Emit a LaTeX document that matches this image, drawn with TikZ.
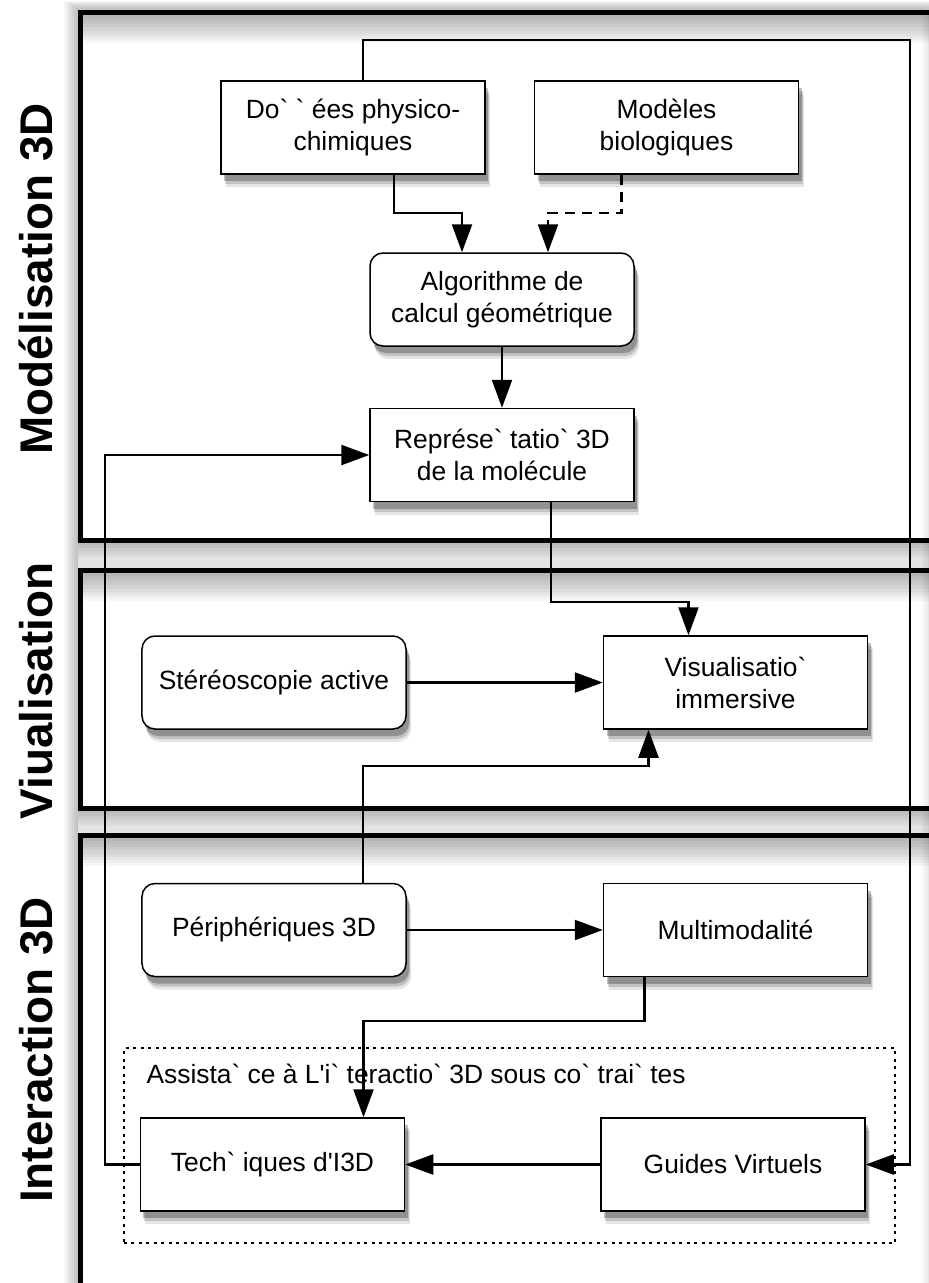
\documentclass[tikz,border=0pt]{standalone}
\usepackage{fontspec}
\setmainfont{Liberation Sans}[Ligatures=TeXOff]
\usetikzlibrary{positioning,arrows.meta,shadows}

\begin{document}
\begin{tikzpicture}[
  x=1bp, y=-1bp,
  box/.style={draw, line width=1.5bp, fill=white, align=center, minimum width=264bp, minimum height=93bp, inner sep=0pt,
    font=\fontsize{26.5}{32}\selectfont,
    drop shadow={shadow xshift=5bp, shadow yshift=-13bp, fill=black, opacity=0.10},
    drop shadow={shadow xshift=4bp, shadow yshift=-10bp, fill=black, opacity=0.15},
    drop shadow={shadow xshift=3bp, shadow yshift=-7bp, fill=black, opacity=0.25}},
  roundbox/.style={box, rounded corners=13bp},
  lane/.style={draw, line width=5bp, fill=white},
  haze/.style={fill=black, opacity=0.035},
  lanelabel/.style={rotate=90, font=\fontsize{46}{46}\selectfont\bfseries},
  groupbox/.style={draw, line width=2bp, dash pattern=on 3bp off 4.5bp, minimum width=771bp, minimum height=195bp},
  arrow/.style={-{Triangle[length=28bp, width=20bp]}, line width=2.3bp},
  dasharrow/.style={arrow, dash pattern=on 10bp off 7bp}
]
\useasboundingbox (0,0) rectangle (929,1283);
\fill[white] (0,0) rectangle (929,1283);

% swimlanes
\foreach \k in {1,...,7} {
  \fill[haze] (78-2*\k,9-1.2*\k) rectangle (942,1283);
}
\fill[white] (78,10) rectangle (942,1283);
\fill[gray!22] (78,542) rectangle (942,568);
\fill[gray!22] (78,810) rectangle (942,833);
\foreach \k in {1,...,5} {
  \fill[haze] (78,542) rectangle (942,542+3*\k);
  \fill[haze] (78,810) rectangle (942,810+3*\k);
}
\draw[lane] (80,12) rectangle (942,540);
\draw[lane] (80,570) rectangle (942,808);
\draw[lane] (80,835) rectangle (942,1300);
\foreach \top in {14.5,572.5,837.5} {
  \foreach \k in {1,...,9} {
    \fill[haze] (82.5,\top) rectangle (939.5,\top+3.2*\k);
  }
}
\foreach \k in {1,...,6} {
  \fill[haze] (939.5-3*\k,14.5) rectangle (939.5,1283);
}
\node[lanelabel] (labmodel) at (36,279) {Modélisation 3D};
\node[lanelabel] (labvisu) at (36,691) {Viualisation};
\node[lanelabel] (labinter) at (36,1050) {Interaction 3D};

% modelisation
\node[box] (donnees) at (353,127.5) {Do` ` ées physico-\\chimiques};
\node[box, right=48bp of donnees] (modeles) {Modèles\\biologiques};
\node[roundbox] (algo) at (502,299.5) {Algorithme de\\calcul géométrique};
\node[box, below=61bp of algo] (repr) {Représe` tatio`  3D\\de la molécule};

% visualisation
\node[roundbox] (stereo) at (274,682.5) {Stéréoscopie active};
\node[box, right=196bp of stereo] (visu) {Visualisatio`\\immersive};

% interaction
\node[roundbox, below=153bp of stereo] (periph) {Périphériques 3D};
\node[box, right=196bp of periph] (multi) {Multimodalité};
\node[groupbox] (assist) at (509.5,1145.5) {};
\node[anchor=base west, font=\fontsize{26.5}{32}\selectfont] (assistlabel) at (143,1083) {Assista` ce à L'i` teractio` 3D sous co` trai` tes};
\node[box] (tech) at (272.5,1164.5) {Tech` iques d'I3D};
\node[box, right=195bp of tech] (guides) {Guides Virtuels};

% connectors
\coordinate (topturn) at (910,40);
\draw[arrow] ([xshift=10bp]donnees.north) |- (topturn) |- (guides.east);
\draw[arrow] ([xshift=41bp]donnees.south) -- ++(0,38) -| ([xshift=-40bp]algo.north);
\draw[dasharrow] ([xshift=-45bp]modeles.south) -- ++(0,38) -| ([xshift=46bp]algo.north);
\draw[arrow] (algo) -- (repr);
\draw[arrow] (tech.west) -- ++(-35,0) |- (repr.west);
\draw[arrow] ([xshift=49bp]repr.south) -- ++(0,100) -| ([xshift=-47bp]visu.north);
\draw[arrow] (stereo) -- (visu);
\draw[arrow] ([xshift=89bp]periph.north) -- ++(0,-117) -| ([xshift=-87bp]visu.south);
\draw[arrow] (periph) -- (multi);
\draw[arrow] ([xshift=-91bp]multi.south) -- ++(0,44) -| ([xshift=91bp]tech.north);
\draw[arrow] (guides) -- (tech);
\end{tikzpicture}
\end{document}
